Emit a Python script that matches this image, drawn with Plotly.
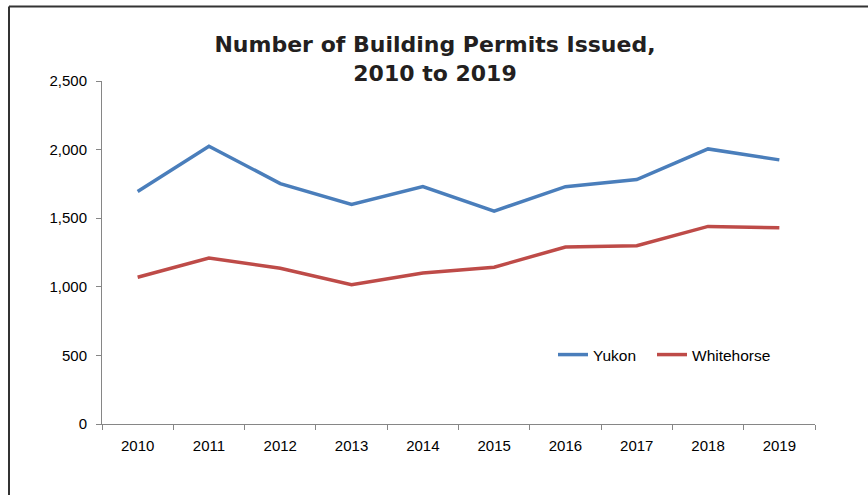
import plotly.graph_objects as go

years = ["2010", "2011", "2012", "2013", "2014", "2015", "2016", "2017", "2018", "2019"]
yukon = [1695, 2025, 1752, 1600, 1730, 1552, 1730, 1782, 2005, 1925]
whitehorse = [1070, 1210, 1135, 1015, 1100, 1143, 1290, 1300, 1440, 1430]
y_ticks = [0, 500, 1000, 1500, 2000, 2500]
y_tick_labels = ["0", "500", "1,000", "1,500", "2,000", "2,500"]

W, H = 868, 495
L, R, T, B = 102, 53, 81, 71
pw = W - L - R
ph = H - T - B

fig = go.Figure()
fig.add_trace(go.Scatter(x=years, y=yukon, mode="lines", name="Yukon",
                         line=dict(color="#4A7EBB", width=3.5), legend="legend"))
fig.add_trace(go.Scatter(x=years, y=whitehorse, mode="lines", name="Whitehorse",
                         line=dict(color="#BE4B48", width=3.5), legend="legend2"))

def px_x(p):
    return (p - L) / pw

def px_y(p):
    return (H - B - p) / ph

leg_common = dict(orientation="h", xanchor="left", y=px_y(355), yanchor="middle",
                  font=dict(size=15.5), bgcolor="rgba(0,0,0,0)", itemwidth=30)

fig.update_layout(
    width=W, height=H,
    margin=dict(l=L, r=R, t=T, b=B),
    paper_bgcolor="white", plot_bgcolor="white",
    font=dict(family="Liberation Sans, Arial, sans-serif", size=15, color="#000000"),
    title=dict(text="<b>Number of Building Permits Issued,<br>2010 to 2019</b>",
               x=435 / W, xref="container", xanchor="center",
               y=1 - 52 / H, yref="container", yanchor="top",
               font=dict(family="DejaVu Sans, sans-serif", size=22, color="#231F20")),
    showlegend=True,
    legend=dict(x=px_x(553), **leg_common),
    legend2=dict(x=px_x(652), **leg_common),
    hovermode=False,
    xaxis=dict(type="category", range=[-0.5, 9.5], showgrid=False, showline=True,
               linecolor="#868686", linewidth=1,
               ticks="outside", tickson="boundaries", ticklen=5, tickcolor="#868686",
               tickfont=dict(size=15), zeroline=False, ticklabelstandoff=8),
    yaxis=dict(range=[0, 2500], tickvals=y_ticks, ticktext=y_tick_labels, showgrid=False,
               showline=True, linecolor="#868686", linewidth=1, ticks="outside", ticklen=5,
               tickcolor="#868686", tickfont=dict(size=15), zeroline=False,
               ticklabelstandoff=6),
)

# frame lines (cropped border)
fig.add_shape(type="line", xref="paper", yref="paper",
              x0=px_x(9), x1=px_x(W + 5), y0=px_y(6.5), y1=px_y(6.5),
              line=dict(color="#333333", width=2))
fig.add_shape(type="line", xref="paper", yref="paper",
              x0=px_x(9), x1=px_x(9), y0=px_y(6.5), y1=px_y(H + 5),
              line=dict(color="#333333", width=2))

fig.write_html("out.html", config={"displayModeBar": False},
               post_script="document.body.style.margin='0';document.body.style.overflow='hidden';")
